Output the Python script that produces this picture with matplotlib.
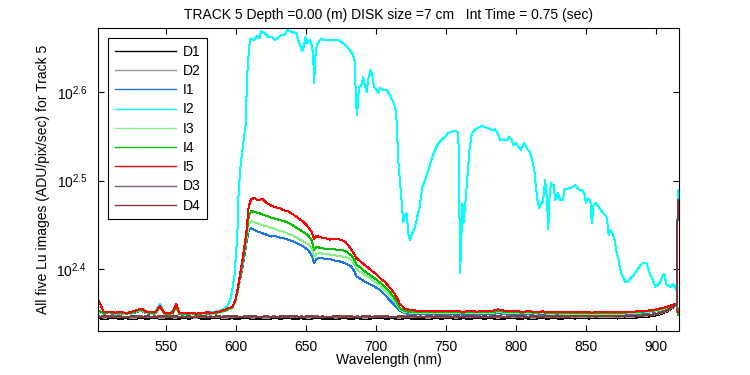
import matplotlib
matplotlib.use('Agg')
import matplotlib.pyplot as plt
from matplotlib.ticker import NullLocator, NullFormatter

plt.rcParams['font.family'] = ['Liberation Sans', 'DejaVu Sans']
plt.rcParams['mathtext.fontset'] = 'custom'
plt.rcParams['mathtext.rm'] = 'Liberation Sans'
plt.rcParams['font.size'] = 10
plt.rcParams['lines.antialiased'] = False

# ---- data (ADU/pix/sec) ----

# I2 (cyan) has its own wavelength samples: (nm, value)
i2_pts = [
    (502, 224.5), (506, 224.0), (510, 224.3), (515, 223.8), (520, 224.2), (525, 223.7),
    (530, 225.4), (533, 226.5), (537, 224.3), (542, 224.0), (546, 229.7), (549, 224.0),
    (553, 223.6), (557.5, 228.0), (560, 223.8), (565, 223.4), (570, 223.9), (575, 223.5),
    (580, 224.3), (584, 224.9), (588, 225.3), (590, 225.8), (592, 226.8), (594, 228.5),
    (595.7, 231.0), (597.4, 237.0), (599.3, 248.5), (601.2, 276.8), (602.1, 308.6),
    (603.5, 330.0), (605.5, 350.0), (607.1, 365.4), (608.1, 414.3), (608.8, 430.8),
    (609.5, 446.4), (610.5, 457.8), (613, 455.8), (615, 460.5), (617.1, 457.8),
    (617.9, 466.6), (620.7, 463.8), (623.1, 459.7), (625.5, 459.7), (627.9, 455.8),
    (630.2, 458.5), (632.6, 461.8), (635, 461.8), (636.9, 467.8), (639.8, 465.8),
    (643.3, 463.8), (644.5, 455.8), (646.4, 447.9), (647.4, 442.9), (648.8, 449.9),
    (649.8, 459.7), (651.2, 451.9), (652.9, 455.8), (654.1, 449.9), (655.2, 440.3),
    (655.9, 407.3), (656.9, 438.4), (657.9, 449.9), (660, 455.8), (661.2, 457.8),
    (663.6, 455.8), (668.4, 455.8), (673.1, 455.8), (676.6, 451.9), (679.1, 448.0),
    (681.4, 444.1), (683.8, 438.4), (685, 430.8), (685.7, 388.2), (686.6, 375.0),
    (687.4, 395.1), (688.1, 403.7), (689.8, 405.5), (690.9, 414.3), (692.1, 405.5),
    (693.4, 398.5), (694.5, 410.8), (696.2, 421.6), (697.4, 416.2), (698.6, 403.7),
    (700.5, 400.2), (701.7, 396.8), (702.9, 402.0), (705.2, 400.2), (707.6, 400.2),
    (710, 395.1), (712.4, 388.2), (714.1, 379.9), (714.8, 368.5), (716, 332.1),
    (717.1, 316.7), (718.4, 298.1), (719.5, 284.1), (720.7, 289.1), (721.9, 290.4),
    (723.1, 275.6), (724.3, 270.9), (725.9, 275.6), (727.9, 280.4), (729.5, 287.8),
    (731.4, 296.8), (733.1, 311.2), (735, 316.7), (737.4, 325.0), (739.8, 335.0),
    (742.1, 342.4), (744.5, 348.4), (746.9, 352.0), (749.3, 354.4), (751.6, 358.1),
    (754.1, 359.1), (756.4, 360.0), (758.1, 359.1), (758.8, 354.4), (759.3, 319.4),
    (760, 248.5), (760.7, 266.2), (761.7, 298.1), (762.4, 282.9), (763.6, 295.5),
    (765.2, 319.4), (766.7, 342.4), (768.4, 357.6), (770.7, 361.3), (773.1, 363.2),
    (775.5, 364.4), (777.9, 363.8), (780.2, 362.3), (782.6, 360.7), (785, 361.3),
    (786.7, 357.6), (788.6, 351.4), (790.9, 352.0), (793.4, 351.4), (795, 354.4),
    (796.9, 351.4), (798.1, 346.8), (800, 348.4), (801.7, 345.3), (803.4, 342.4),
    (805.7, 348.9), (807.6, 343.9), (809.5, 340.9), (811.2, 335.0), (812.9, 325.0),
    (814.1, 311.2), (815.2, 300.7), (816.4, 294.3), (817.6, 298.1), (819.1, 299.4),
    (820, 308.6), (820.7, 316.7), (821.9, 303.3), (822.9, 279.2), (823.8, 303.3),
    (824.8, 314.0), (826.7, 312.6), (827.9, 300.7), (829.8, 306.0), (831.4, 300.7),
    (833.4, 300.7), (834.5, 309.1), (837.4, 309.9), (839.8, 310.7), (842.1, 312.6),
    (844.5, 309.1), (846.9, 308.6), (848.6, 306.0), (849.8, 298.1), (850.9, 302.0),
    (852.9, 300.7), (854, 282.9), (855.2, 296.8), (857.1, 298.1), (859.5, 294.3),
    (861.9, 290.9), (863.6, 289.1), (864.8, 286.6), (866, 274.4), (867.1, 278.0),
    (868.4, 276.8), (870, 272.1), (871.4, 264.0), (873.1, 257.2), (874.3, 250.6),
    (876.2, 246.3), (877.9, 243.1), (879.5, 243.1), (881.4, 245.3), (883.8, 247.4),
    (886.2, 250.6), (888.6, 253.9), (890.9, 255.4), (892.9, 255.0), (894.5, 250.6),
    (896.2, 246.3), (897.6, 243.8), (899.3, 240.0), (900.9, 241.1), (902.9, 243.1),
    (904.5, 247.4), (905.7, 248.0), (907.1, 241.7), (908.8, 240.4), (910.5, 240.0),
    (912, 241.7), (913.1, 240.4), (914.3, 237.9), (914.8, 242.1), (915.2, 308.6),
]
wl_i2 = [p[0] for p in i2_pts]
i2 = [p[1] for p in i2_pts]

# wavelengths shared by I1, I3, I4, I5
wl_lo = [502, 506, 510, 514, 518, 522, 526, 530, 533, 536, 540, 543, 546, 549,
         552, 555, 557.5, 560, 564, 568, 572, 576, 580, 584, 588, 592, 595,
         597.5, 600, 602.5, 605, 607.5,
         609.3, 611, 613.5, 616, 619, 622, 625.5, 628.5, 631, 634,
         637.5, 641, 644.5, 648, 651.5, 654.3, 655.9, 657.6, 660, 663.5,
         667, 670.5, 674, 678, 680.5, 682.6, 684.5, 686.2, 689, 692,
         695.5, 699.3, 702.5, 706.4, 709.5, 712.4, 714.8, 717.1, 720, 723,
         727, 732, 737, 742, 747, 752, 757, 762, 767, 772,
         777, 782, 787, 790, 794, 799, 804, 809, 814, 819,
         824, 829, 834, 839, 844, 849, 854, 859, 864, 869,
         874, 879, 884, 889, 894, 898, 902, 906, 910, 913, 914.6, 915.2]

i5 = [231.8, 224.6, 225.0, 224.4, 224.8, 224.1, 224.9, 226.0, 226.8, 225.0,
      224.6, 224.9, 228.3, 224.4, 224.0, 224.6, 229.4, 224.2, 223.9, 224.3,
      223.8, 224.2, 224.6, 224.3, 225.0, 226.0, 227.3,
      227.5, 232.5, 244.5, 258.5, 276.0,
      296.0, 301.5, 302.3, 300.4, 301.6, 298.4, 296.3, 295.0, 294.6, 292.8,
      292.0, 289.6, 286.9, 284.3, 280.6, 276.5, 272.0, 273.9, 273.0, 272.4,
      271.3, 272.0, 271.5, 269.8, 267.2, 264.0, 261.2, 258.5, 256.2, 254.0,
      251.4, 248.6, 245.8, 243.0, 239.8, 236.8, 233.6, 229.5, 227.0, 226.2,
      225.8, 225.3, 225.6, 225.0, 225.4, 225.1, 225.5, 224.9, 225.3, 225.0,
      225.4, 225.2, 226.3, 225.8, 225.1, 225.4, 224.9, 225.2, 224.8, 225.1,
      224.6, 225.0, 224.7, 224.9, 224.5, 224.8, 224.4, 224.7, 224.5, 224.8,
      224.6, 224.9, 225.0, 225.3, 225.6, 226.0, 226.7, 227.5, 228.6, 229.5, 229.8, 224.8]

i4 = [225.5, 224.2, 224.6, 224.0, 224.5, 223.8, 224.4, 225.6, 226.2, 224.7,
      224.1, 224.5, 228.0, 224.0, 223.7, 224.2, 228.0, 223.8, 223.5, 224.0,
      223.6, 223.9, 224.2, 224.0, 224.6, 225.5, 226.8,
      227.3, 232.0, 243.5, 256.5, 273.0,
      288.0, 292.6, 291.3, 291.0, 289.6, 288.7, 287.0, 286.4, 285.6, 284.8,
      283.5, 281.3, 279.0, 276.9, 274.5, 270.7, 264.2, 266.4, 265.6, 265.0,
      264.6, 264.5, 264.0, 263.6, 261.8, 260.3, 257.8, 254.2, 252.3, 249.8,
      247.6, 245.2, 243.0, 240.1, 237.2, 234.0, 230.8, 227.0, 225.6, 225.0,
      225.0, 224.7, 225.0, 224.6, 224.9, 224.5, 224.8, 224.4, 224.7, 224.5,
      224.9, 224.6, 225.4, 225.1, 224.6, 224.9, 224.4, 224.7, 224.3, 224.6,
      224.2, 224.5, 224.2, 224.4, 224.1, 224.4, 224.0, 224.3, 224.1, 224.4,
      224.2, 224.5, 224.6, 224.9, 225.2, 225.6, 226.3, 227.2, 228.3, 229.2, 229.6, 223.0]

i3 = [224.8, 224.0, 224.3, 223.8, 224.2, 223.6, 224.1, 225.2, 225.8, 224.3,
      223.8, 224.2, 227.5, 223.7, 223.5, 223.9, 227.0, 223.6, 223.3, 223.8,
      223.4, 223.7, 224.0, 223.8, 224.3, 225.2, 226.4,
      227.0, 231.5, 242.5, 255.0, 271.0,
      282.5, 284.8, 283.6, 283.0, 281.6, 280.9, 279.5, 278.9, 277.7, 276.9,
      275.4, 274.1, 272.0, 270.3, 268.4, 265.2, 259.6, 261.5, 261.9, 261.4,
      261.0, 260.5, 260.1, 259.3, 258.6, 257.0, 254.6, 251.2, 249.4, 247.4,
      245.6, 243.0, 241.0, 237.8, 235.0, 231.9, 229.3, 226.3, 225.0, 224.5,
      224.4, 224.2, 224.5, 224.1, 224.4, 224.0, 224.3, 223.9, 224.2, 224.0,
      224.4, 224.1, 224.8, 224.5, 224.1, 224.4, 223.9, 224.2, 223.8, 224.1,
      223.7, 224.0, 223.7, 223.9, 223.6, 223.9, 223.5, 223.8, 223.6, 223.9,
      223.7, 224.0, 224.2, 224.5, 224.8, 225.2, 225.9, 226.8, 228.0, 228.9, 229.3, 223.5]

i1 = [224.6, 223.8, 224.1, 223.6, 224.0, 223.4, 223.9, 225.0, 225.5, 224.0,
      223.6, 224.0, 228.6, 223.5, 223.2, 223.6, 228.2, 223.4, 223.1, 223.5,
      223.2, 223.5, 223.8, 223.6, 224.2, 225.4, 227.0,
      227.0, 231.5, 242.0, 253.0, 268.0,
      278.2, 279.4, 278.1, 276.9, 275.8, 274.8, 273.5, 273.6, 272.8, 272.4,
      271.2, 270.2, 268.4, 266.6, 264.1, 260.4, 255.2, 258.2, 258.6, 258.2,
      257.9, 257.0, 256.4, 255.2, 254.0, 252.7, 250.0, 246.5, 245.0, 243.2,
      241.7, 240.0, 238.3, 235.0, 232.1, 229.6, 227.4, 225.6, 224.2, 223.6,
      223.6, 223.5, 223.9, 223.4, 223.8, 223.3, 223.7, 223.2, 223.6, 223.4,
      223.8, 223.5, 224.1, 223.8, 223.5, 223.8, 223.3, 223.6, 223.2, 223.5,
      223.1, 223.4, 223.1, 223.3, 223.0, 223.3, 222.9, 223.2, 223.0, 223.3,
      223.1, 223.4, 223.6, 223.9, 224.3, 224.8, 225.6, 226.6, 227.8, 228.7, 229.1, 223.2]

# dark frames, every 5 nm
wl_dark = list(range(502, 913, 5)) + [914.6, 915.2]

d1 = [221.2, 220.6, 221.4, 220.9, 221.1, 220.5, 221.3, 220.8, 221.5, 220.7, 221.0, 220.6, 221.2, 220.9,
      221.4, 220.7, 221.0, 221.3, 220.6, 221.1, 220.8, 221.4, 220.7, 221.0, 220.5, 221.2, 220.9, 221.3,
      220.8, 221.1, 220.6, 221.4, 220.9, 221.0, 220.7, 221.3, 220.8, 221.2, 220.6, 221.0, 221.4, 220.9,
      221.1, 220.7, 221.3, 220.8, 221.0, 220.6, 221.2, 220.9, 221.4, 220.7, 221.1, 220.8, 221.3, 220.9,
      221.2, 220.7, 221.0, 221.4, 220.8, 221.1, 220.6, 221.3, 220.9, 221.2, 220.8, 221.4, 221.0, 221.3,
      221.0, 221.4, 221.1, 221.3, 221.0, 221.5, 221.2, 221.6, 221.9, 222.3, 223.2, 224.8, 227.3,
      229.0, 225.5]
d2 = [221.9, 221.5, 222.1, 221.6, 221.8, 221.3, 222.0, 221.6, 221.9, 221.4, 221.8, 221.5, 222.0, 221.7,
      221.5, 222.0, 221.6, 221.9, 221.4, 221.8, 221.6, 222.1, 221.5, 221.8, 221.3, 221.9, 221.7, 222.0,
      221.6, 221.9, 221.4, 222.0, 221.7, 221.8, 221.5, 222.1, 221.6, 221.9, 221.4, 221.8, 222.1, 221.7,
      221.8, 221.5, 222.0, 221.6, 221.9, 221.4, 221.9, 221.7, 222.1, 221.5, 221.8, 221.6, 222.0, 221.7,
      221.9, 221.5, 221.8, 222.1, 221.6, 221.9, 221.4, 222.0, 221.7, 221.9, 221.6, 222.1, 221.8, 222.0,
      221.8, 222.1, 221.9, 222.0, 221.8, 222.2, 222.0, 222.3, 222.6, 223.0, 223.8, 225.3, 227.7,
      229.3, 225.8]
d3 = [222.2, 221.8, 222.4, 221.9, 222.1, 221.7, 222.3, 221.9, 222.2, 221.8, 222.3, 221.9, 222.1, 221.8,
      222.3, 221.9, 222.2, 221.7, 222.4, 222.0, 221.8, 222.3, 221.9, 222.1, 221.7, 222.2, 222.0, 222.4,
      221.9, 222.2, 221.8, 222.3, 222.0, 222.1, 221.8, 222.4, 221.9, 222.2, 221.7, 222.1, 222.3, 222.0,
      222.1, 221.8, 222.3, 221.9, 222.2, 221.7, 222.2, 222.0, 222.4, 221.8, 222.1, 221.9, 222.3, 222.0,
      222.2, 221.8, 222.1, 222.4, 221.9, 222.2, 221.7, 222.3, 222.0, 222.2, 221.9, 222.4, 222.1, 222.3,
      222.1, 222.4, 222.2, 222.3, 222.1, 222.5, 222.3, 222.6, 222.9, 223.3, 224.1, 225.6, 228.0,
      229.5, 226.0]
d4 = [222.0, 222.4, 221.9, 222.3, 221.8, 222.4, 222.0, 222.3, 221.9, 222.5, 222.1, 222.3, 221.8, 222.2,
      222.0, 222.4, 221.9, 222.3, 222.0, 222.5, 222.1, 221.9, 222.4, 222.0, 222.3, 221.8, 222.2, 222.1,
      222.3, 221.9, 222.4, 222.0, 222.2, 221.9, 222.5, 222.0, 222.3, 221.8, 222.4, 222.1, 221.9, 222.3,
      221.9, 222.3, 222.0, 222.4, 221.8, 222.3, 222.1, 222.4, 221.9, 222.3, 222.0, 222.4, 221.9, 222.2,
      222.1, 222.4, 221.9, 222.2, 222.5, 222.0, 222.3, 221.9, 222.4, 222.1, 222.3, 222.0, 222.4, 222.2,
      222.3, 222.1, 222.5, 222.2, 222.4, 222.3, 222.6, 222.4, 222.8, 223.2, 224.0, 225.5, 228.0,
      229.6, 300.7]

x_ticks = [550, 600, 650, 700, 750, 800, 850, 900]
y_ticks = [10 ** 2.4, 10 ** 2.5, 10 ** 2.6]
y_ticklabels = [r'$\mathregular{10^{2.4}}$', r'$\mathregular{10^{2.5}}$', r'$\mathregular{10^{2.6}}$']

title = 'TRACK 5 Depth =0.00 (m) DISK size =7 cm   Int Time = 0.75 (sec)'

# ---- figure ----
fig = plt.figure(figsize=(7.5, 3.75), dpi=100)
ax = fig.add_axes([0.1311, 0.1181, 0.7747, 0.8064])

lw = 0.72   # one pixel at 100 dpi
ax.plot(wl_dark, d1, color='#000000', lw=lw, label='D1')
ax.plot(wl_dark, d2, color='#9a9a9a', lw=lw, label='D2')
ax.plot(wl_lo, i1, color='#1a75e8', lw=lw, label='I1')
ax.plot(wl_i2, i2, color='#00ffff', lw=lw, label='I2')
ax.plot(wl_lo, i3, color='#86ef86', lw=lw, label='I3')
ax.plot(wl_lo, i4, color='#00c000', lw=lw, label='I4')
ax.plot(wl_lo, i5, color='#ff0000', lw=lw, label='I5')
ax.plot(wl_dark, d3, color='#866060', lw=lw, label='D3')
ax.plot(wl_dark, d4, color='#803c3c', lw=lw, label='D4')

ax.set_yscale('log')
ax.set_xlim(502, 916.4)
ax.set_ylim(214.1, 469.9)
ax.set_xticks(x_ticks)
ax.set_yticks(y_ticks)
ax.set_yticklabels(y_ticklabels)
ax.yaxis.set_minor_locator(NullLocator())
ax.yaxis.set_minor_formatter(NullFormatter())

ax.tick_params(direction='in', top=True, right=True, length=4, width=0.8)
ax.tick_params(axis='x', pad=6.5)
ax.tick_params(axis='y', pad=8)
for s in ax.spines.values():
    s.set_linewidth(0.8)

ax.set_title(title, fontsize=10, pad=6.5)
ax.set_xlabel('Wavelength (nm)')
ax.set_ylabel('All five Lu images (ADU/pix/sec) for Track 5')
ax.xaxis.set_label_coords(0.5, -0.074)
ax.yaxis.set_label_coords(-0.083, 0.5)

leg = ax.legend(loc='upper left', bbox_to_anchor=(0.0172, 0.967), borderaxespad=0,
                fancybox=False, edgecolor='black', framealpha=1, fontsize=10,
                handlelength=4.4, handletextpad=0.5, labelspacing=0.38, borderpad=0.45)
leg.get_frame().set_linewidth(0.8)
for h in leg.get_lines():
    h.set_antialiased(True)
    h.set_linewidth(1.0)

fig.savefig('out.png', dpi=100)
